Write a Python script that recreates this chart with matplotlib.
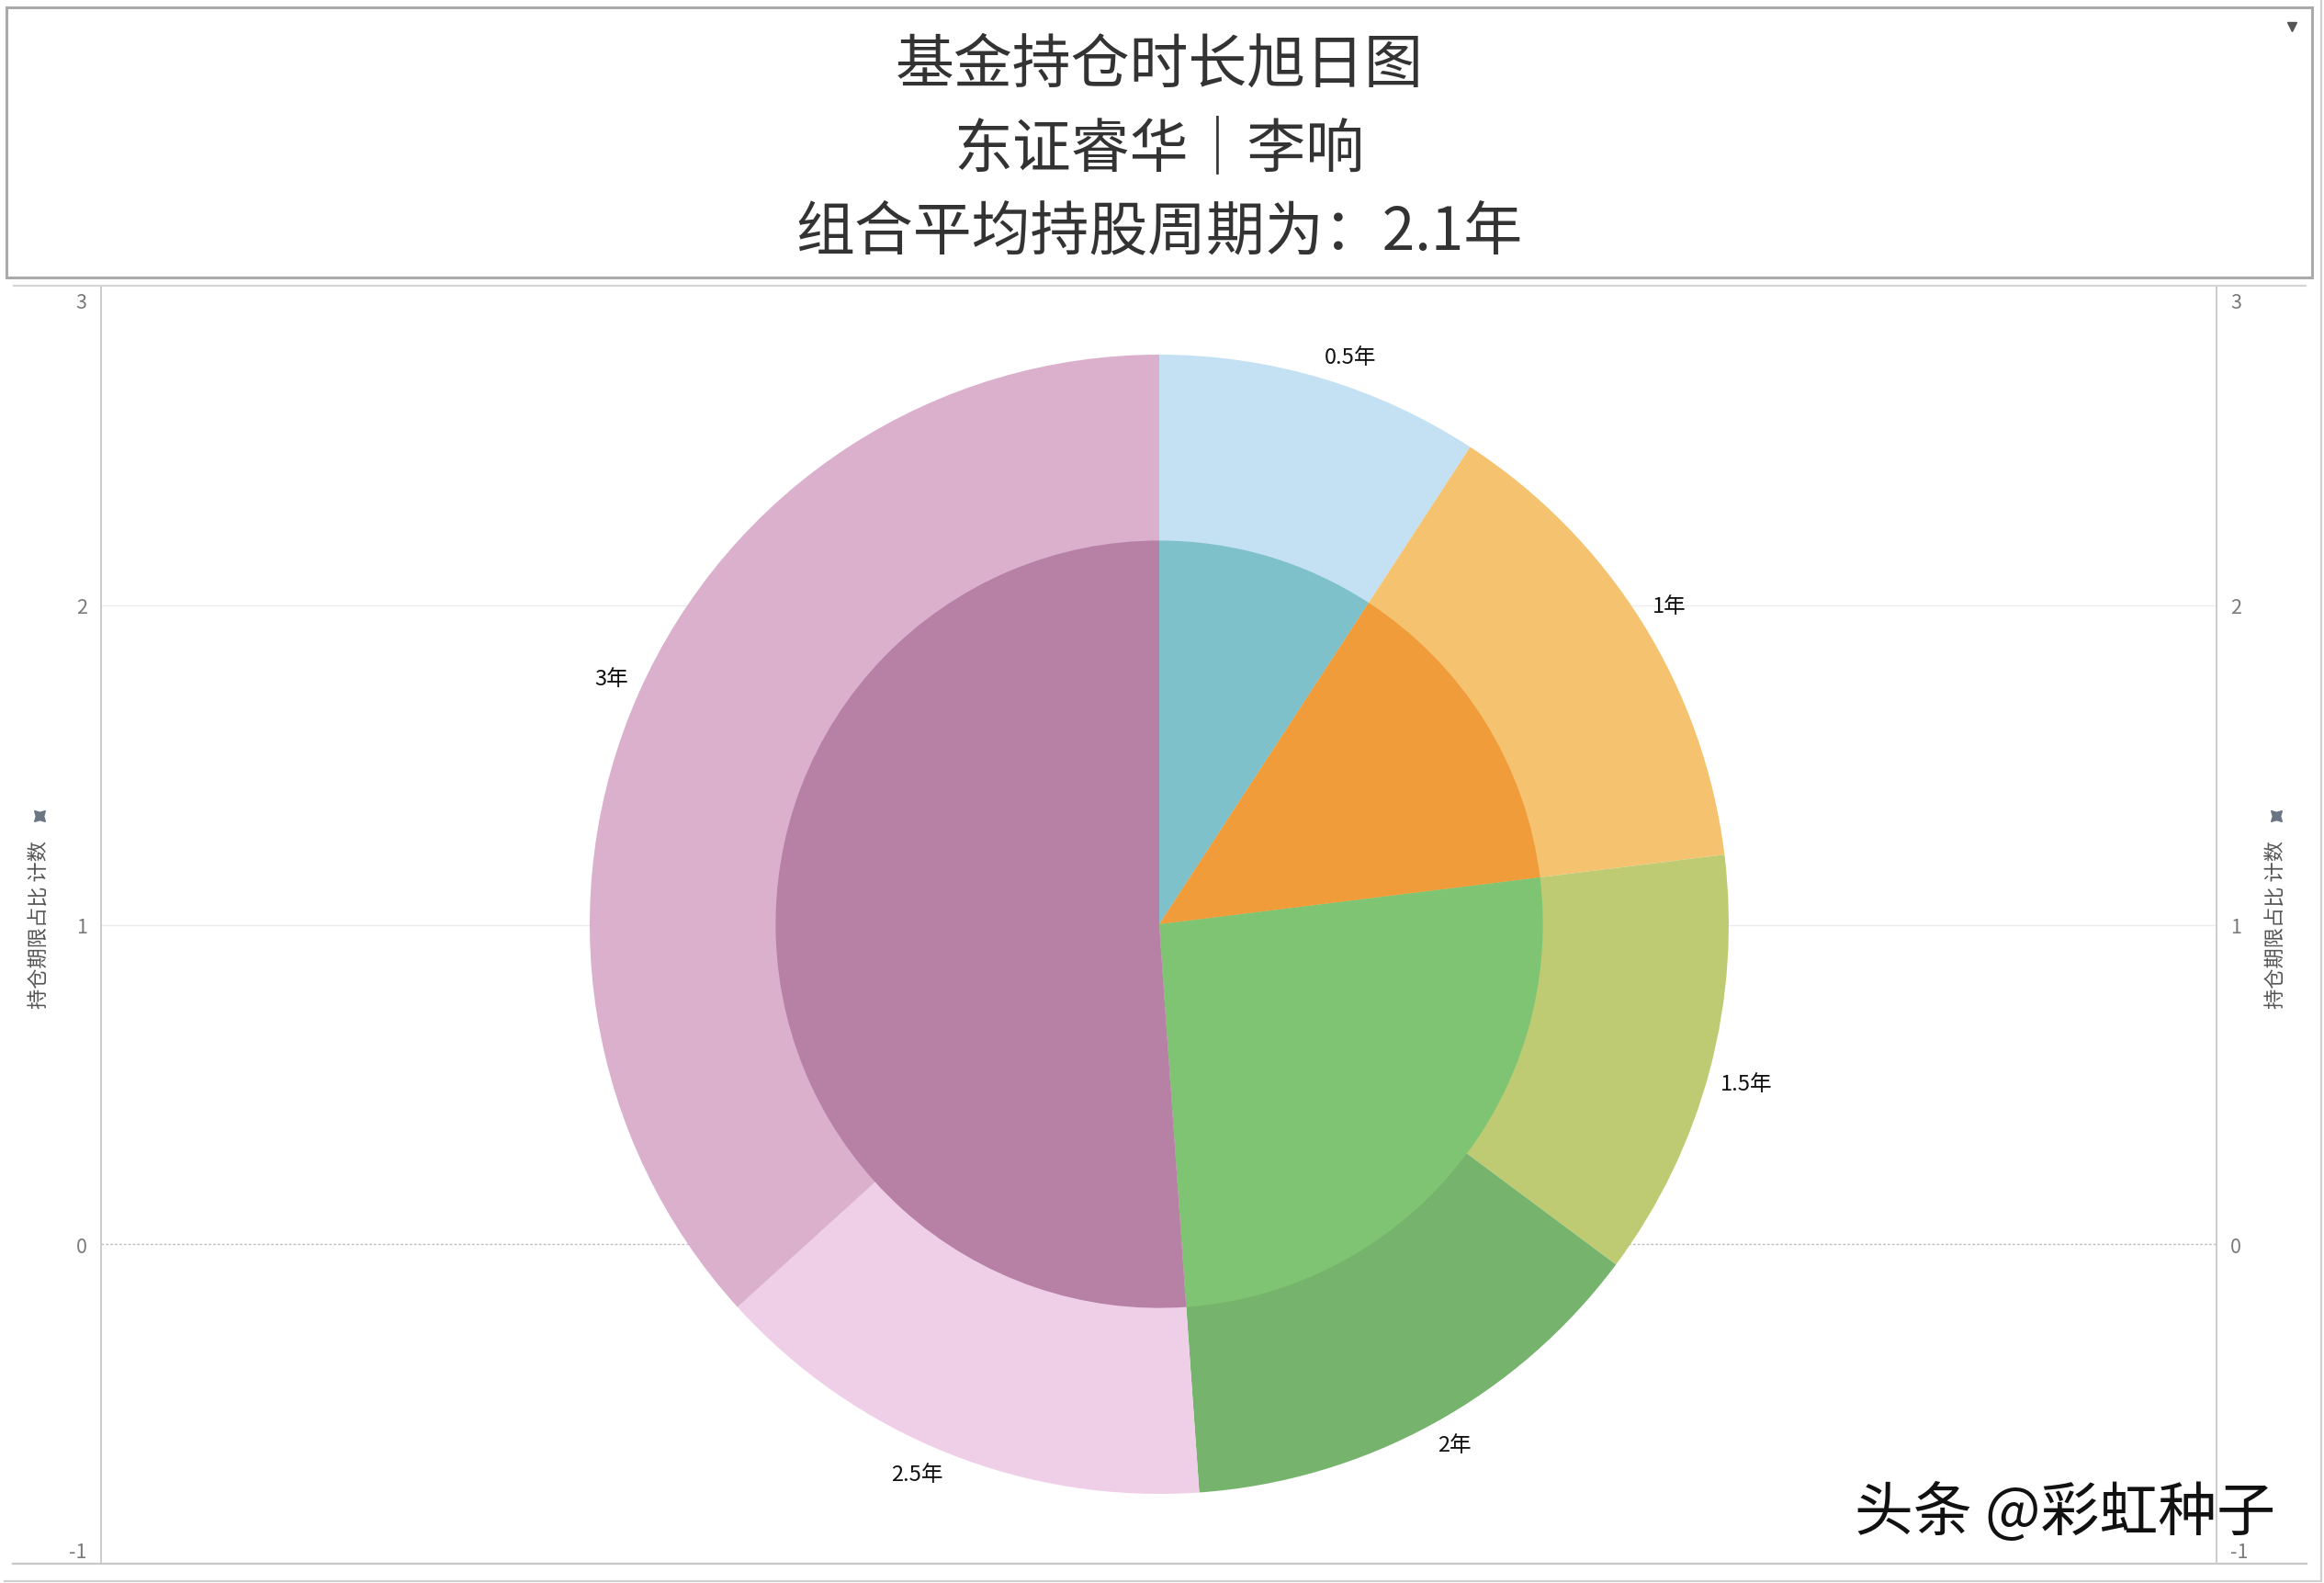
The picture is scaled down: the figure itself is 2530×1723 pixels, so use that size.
import numpy as np
import matplotlib
matplotlib.use("Agg")
import matplotlib.pyplot as plt
from matplotlib.lines import Line2D
from matplotlib.patches import Rectangle
from matplotlib.transforms import ScaledTranslation

plt.rcParams['font.family'] = ['Noto Sans CJK SC', 'DejaVu Sans']

# data (share of holdings, %)
periods = ['0.5年', '1年', '1.5年', '2年', '2.5年', '3年']
outer_share = [9.19, 13.86, 12.14, 13.69, 14.39, 36.73]
outer_colors = ['#C3E1F2', '#F5C370', '#BECB73', '#76B36C', '#EFCFE8', '#DAB0CD']

inner_share = [9.19, 13.86, 25.83, 51.12]
inner_colors = ['#7FC1CA', '#F19C3A', '#7FC472', '#B781A5']

y_ticks = [-1, 0, 1, 2, 3]
title_lines = ['基金持仓时长旭日图', '东证睿华｜李响', '组合平均持股周期为：2.1年']
axis_title = '持仓期限占比 计数'

W, H = 2530, 1724
fig = plt.figure(figsize=(W / 100, H / 100), dpi=100)


def fx(x):
    return x / W


def fy(y):
    return 1 - y / H


# main (dual) axis frame
ax = fig.add_axes([fx(110), fy(1703), fx(2413) - fx(110), fy(312) - fy(1703)])
ax.set_xlim(0, 1)
ax.set_ylim(-0.998, 2.994)
ax.set_xticks([])
ax.set_yticks(y_ticks)
ax.set_yticklabels([str(t) for t in y_ticks])
ax.tick_params(axis='y', length=0, labelsize=15.5, labelcolor='#7a7a7a', pad=11,
               labelleft=True, labelright=True)
# edge labels are nudged inside the plot, like Tableau does
down = ScaledTranslation(0, -0.07, fig.dpi_scale_trans)
up = ScaledTranslation(0, 0.02, fig.dpi_scale_trans)
for tick in ax.yaxis.get_major_ticks():
    if tick.get_loc() == 3:
        for lab in (tick.label1, tick.label2):
            lab.set_va('top')
            lab.set_transform(lab.get_transform() + down)
    elif tick.get_loc() == -1:
        for lab in (tick.label1, tick.label2):
            lab.set_va('bottom')
            lab.set_transform(lab.get_transform() + up)
for s in ['top', 'bottom']:
    ax.spines[s].set_visible(False)
for s in ['left', 'right']:
    ax.spines[s].set_color('#cccccc')
    ax.spines[s].set_linewidth(1.4)
for t in [1, 2]:
    ax.axhline(t, color='#ececec', lw=1, zorder=0)
ax.axhline(0, color='#bdbdbd', lw=1, ls=(0, (2, 1.5)), zorder=0)

# sunburst (outer ring + inner pie), centred on y = 1
cx, cy, R = 1262, 1007, 620
pax = fig.add_axes([fx(cx - R), fy(cy + R), fx(2 * R), (2 * R) / H])
wedges, _ = pax.pie(outer_share, colors=outer_colors, startangle=90, counterclock=False,
                    radius=1, wedgeprops=dict(linewidth=0))
pax.pie(inner_share, colors=inner_colors, startangle=90, counterclock=False,
        radius=0.6736, wedgeprops=dict(linewidth=0))
pax.set_xlim(-1, 1)
pax.set_ylim(-1, 1)
pax.set_aspect('auto')
pax.axis('off')

# labels sit just outside the ring, anchored at the corner nearest the pie
for w, lab in zip(wedges, periods):
    ang = np.deg2rad((w.theta1 + w.theta2) / 2)
    x, y = 1.02 * np.cos(ang), 1.02 * np.sin(ang)
    pax.text(x, y, lab, ha='left' if x > 0 else 'right', va='bottom' if y > 0 else 'top',
             fontsize=17, color='#111111')

# title box
fig.patches.append(Rectangle((fx(7), fy(303)), fx(2517) - fx(7), fy(9) - fy(303),
                             transform=fig.transFigure, fill=False,
                             edgecolor='#aaaaaa', lw=2.2))
for txt, y in zip(title_lines, [71, 163, 253]):
    fig.text(fx(cx), fy(y), txt, ha='center', va='center', fontsize=46,
             fontweight='light', color='#333333')
fig.lines.append(Line2D([fx(2495)], [fy(30)], marker='v', markersize=7,
                        color='#555555', transform=fig.transFigure))

# frame lines around the plot area
for y, x0, x1, c in [(312, 15, 2510, '#d4d4d4'), (1703, 14, 2511, '#c8c8c8'),
                     (1722, 5, 2527, '#d0d0d0')]:
    fig.lines.append(Line2D([fx(x0), fx(x1)], [fy(y), fy(y)], color=c, lw=1.6,
                            transform=fig.transFigure))
fig.lines.append(Line2D([fx(2527), fx(2527)], [fy(0), fy(1722)], color='#d0d0d0', lw=1.6,
                        transform=fig.transFigure))

# axis titles (left and right)
for x in [43, 2478]:
    fig.text(fx(x), fy(1006), axis_title, rotation=90, ha='center', va='center',
             fontsize=16, color='#555555')
    fig.lines.append(Line2D([fx(x)], [fy(889)], marker=(4, 1, 45), markersize=12,
                            color='#6b7584', transform=fig.transFigure))

# watermark
fig.text(fx(2248), fy(1648), '头条 @彩虹种子', ha='center', va='center',
         fontsize=46, color='#111111')

fig.savefig('out.png', dpi=100)
